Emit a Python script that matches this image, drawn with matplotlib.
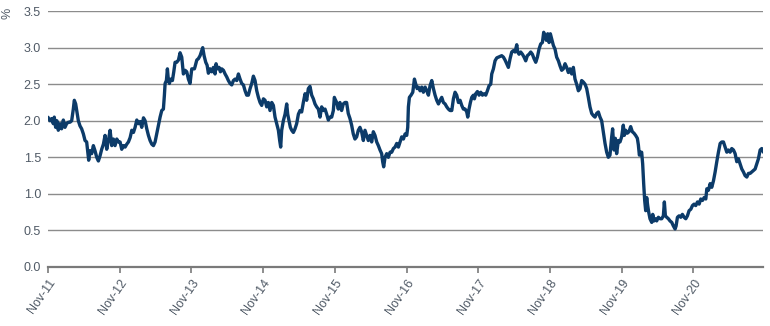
import datetime as dt
import matplotlib
matplotlib.use('Agg')
import matplotlib.pyplot as plt
import matplotlib.dates as mdates

plt.rcParams['font.family'] = ['Liberation Sans', 'DejaVu Sans']

# decimal years (Nov 1 = .833) and yield in %
years = [
    2011.837, 2011.861, 2011.884, 2011.907, 2011.921, 2011.940, 2011.958, 2011.977, 2012.000, 2012.023,
    2012.047, 2012.070, 2012.093, 2012.116, 2012.140, 2012.163, 2012.186, 2012.200, 2012.219, 2012.237,
    2012.256, 2012.279, 2012.302, 2012.326, 2012.349, 2012.372, 2012.386, 2012.400, 2012.419, 2012.442,
    2012.465, 2012.488, 2012.512, 2012.535, 2012.558, 2012.581, 2012.605, 2012.628, 2012.651, 2012.674,
    2012.698, 2012.721, 2012.744, 2012.767, 2012.791, 2012.814, 2012.837, 2012.860, 2012.884, 2012.907,
    2012.930, 2012.953, 2012.977, 2013.000, 2013.023, 2013.046, 2013.070, 2013.093, 2013.116, 2013.139,
    2013.163, 2013.186, 2013.209, 2013.232, 2013.255, 2013.279, 2013.302, 2013.325, 2013.348, 2013.372,
    2013.395, 2013.418, 2013.441, 2013.455, 2013.465, 2013.483, 2013.497, 2013.511, 2013.525, 2013.544,
    2013.567, 2013.586, 2013.604, 2013.627, 2013.651, 2013.674, 2013.697, 2013.720, 2013.744, 2013.767,
    2013.790, 2013.813, 2013.837, 2013.874,
    2013.883, 2013.907, 2013.930, 2013.953, 2013.976, 2013.990, 2014.009, 2014.032, 2014.051, 2014.069,
    2014.093, 2014.116, 2014.139, 2014.162, 2014.176, 2014.195, 2014.218, 2014.237, 2014.255, 2014.279,
    2014.302, 2014.325, 2014.348, 2014.372, 2014.395, 2014.418, 2014.441, 2014.465, 2014.488, 2014.511,
    2014.534, 2014.558, 2014.581, 2014.604, 2014.627, 2014.651, 2014.674, 2014.697, 2014.720, 2014.744,
    2014.767, 2014.790, 2014.813, 2014.837, 2014.860, 2014.883, 2014.906, 2014.929, 2014.953, 2014.976,
    2014.999, 2015.022, 2015.046, 2015.064, 2015.078, 2015.092, 2015.115, 2015.139, 2015.162, 2015.176,
    2015.194, 2015.213, 2015.232, 2015.255, 2015.278, 2015.301, 2015.325, 2015.348, 2015.371, 2015.394,
    2015.418, 2015.441, 2015.464, 2015.487, 2015.511, 2015.534, 2015.557, 2015.580, 2015.604, 2015.627,
    2015.650, 2015.673, 2015.697, 2015.720, 2015.743, 2015.766, 2015.790, 2015.813, 2015.827,
    2015.835, 2015.859, 2015.882, 2015.905, 2015.928, 2015.952, 2015.975, 2015.998, 2016.021, 2016.045,
    2016.068, 2016.091, 2016.114, 2016.138, 2016.161, 2016.184, 2016.207, 2016.231, 2016.254, 2016.277,
    2016.300, 2016.324, 2016.347, 2016.370, 2016.393, 2016.417, 2016.440, 2016.463, 2016.486, 2016.500,
    2016.514, 2016.533, 2016.556, 2016.579, 2016.603, 2016.626, 2016.649, 2016.672, 2016.696, 2016.719,
    2016.742, 2016.765, 2016.789, 2016.812, 2016.835, 2016.849, 2016.858, 2016.872, 2016.895, 2016.919,
    2016.942, 2016.961, 2016.979, 2016.998, 2017.021, 2017.044, 2017.067, 2017.091, 2017.114, 2017.137,
    2017.160, 2017.184, 2017.207, 2017.230, 2017.253, 2017.277, 2017.300, 2017.323, 2017.346, 2017.370,
    2017.393, 2017.416, 2017.439, 2017.463, 2017.486, 2017.509, 2017.532, 2017.556, 2017.579, 2017.602,
    2017.625, 2017.649, 2017.672, 2017.686, 2017.704, 2017.723, 2017.742, 2017.765, 2017.779,
    2017.798, 2017.821, 2017.844, 2017.868, 2017.891, 2017.914, 2017.937, 2017.960, 2017.984, 2018.007,
    2018.021, 2018.044, 2018.067, 2018.091, 2018.114, 2018.137, 2018.160, 2018.184, 2018.207, 2018.230,
    2018.253, 2018.277, 2018.300, 2018.323, 2018.346, 2018.370, 2018.384, 2018.402, 2018.425, 2018.449,
    2018.472, 2018.495, 2018.518, 2018.542, 2018.565, 2018.588, 2018.611, 2018.635, 2018.658, 2018.681,
    2018.704, 2018.728, 2018.746, 2018.765, 2018.783, 2018.802, 2018.821, 2018.839, 2018.858, 2018.881,
    2018.904, 2018.927, 2018.951, 2018.974, 2018.997, 2019.020, 2019.044, 2019.067, 2019.090, 2019.113,
    2019.137, 2019.160, 2019.183, 2019.206, 2019.230, 2019.253, 2019.276, 2019.299, 2019.323, 2019.346,
    2019.369, 2019.392, 2019.416, 2019.439, 2019.462, 2019.485, 2019.509, 2019.532, 2019.555, 2019.578,
    2019.602, 2019.625, 2019.648, 2019.671, 2019.695, 2019.708, 2019.727,
    2019.746, 2019.764, 2019.788, 2019.811, 2019.834, 2019.857, 2019.871, 2019.890, 2019.913, 2019.936,
    2019.960, 2019.983, 2020.006, 2020.029, 2020.053, 2020.067, 2020.081, 2020.099, 2020.113, 2020.127,
    2020.141, 2020.155, 2020.169, 2020.183, 2020.197, 2020.211, 2020.229, 2020.253, 2020.267, 2020.285,
    2020.304, 2020.322, 2020.346, 2020.369, 2020.392, 2020.415, 2020.429, 2020.443, 2020.462, 2020.485,
    2020.508, 2020.532, 2020.555, 2020.578, 2020.592, 2020.611, 2020.634, 2020.657, 2020.680, 2020.704,
    2020.727, 2020.750, 2020.773, 2020.797, 2020.820, 2020.843, 2020.866, 2020.890, 2020.913, 2020.936,
    2020.959, 2020.983, 2021.006, 2021.020, 2021.043, 2021.066, 2021.089, 2021.113, 2021.136, 2021.159,
    2021.182, 2021.206, 2021.229, 2021.252, 2021.275, 2021.299, 2021.322, 2021.345, 2021.368, 2021.392,
    2021.415, 2021.438, 2021.461, 2021.485, 2021.508, 2021.531, 2021.554, 2021.578, 2021.601, 2021.624,
    2021.647, 2021.671, 2021.694, 2021.717, 2021.740, 2021.764, 2021.787, 2021.810, 2021.829,
]
yields = [
    2.04, 2.00, 2.03, 1.96, 2.05, 1.91, 2.00, 1.87, 1.96, 1.89,
    2.01, 1.91, 1.96, 1.98, 1.98, 2.00, 2.16, 2.28, 2.23, 2.12,
    2.00, 1.93, 1.89, 1.82, 1.73, 1.71, 1.59, 1.46, 1.59, 1.55,
    1.66, 1.59, 1.50, 1.45, 1.52, 1.61, 1.68, 1.80, 1.61, 1.73,
    1.87, 1.66, 1.75, 1.66, 1.75, 1.71, 1.71, 1.61, 1.66, 1.64,
    1.68, 1.71, 1.77, 1.87, 1.84, 1.91, 2.01, 1.96, 1.99, 1.91,
    2.04, 2.00, 1.89, 1.80, 1.73, 1.68, 1.66, 1.71, 1.82, 1.93,
    2.05, 2.14, 2.16, 2.35, 2.51, 2.55, 2.71, 2.55, 2.51, 2.57,
    2.55, 2.67, 2.80, 2.80, 2.83, 2.93, 2.87, 2.64, 2.69, 2.67,
    2.57, 2.51, 2.71, 2.71,
    2.74, 2.83, 2.85, 2.89, 2.96, 3.00, 2.89, 2.80, 2.76, 2.65,
    2.71, 2.67, 2.73, 2.64, 2.78, 2.71, 2.73, 2.67, 2.71, 2.69,
    2.64, 2.60, 2.55, 2.51, 2.49, 2.55, 2.57, 2.55, 2.64, 2.57,
    2.51, 2.49, 2.41, 2.35, 2.35, 2.44, 2.51, 2.61, 2.55, 2.41,
    2.32, 2.25, 2.21, 2.30, 2.28, 2.19, 2.25, 2.14, 2.25, 2.21,
    2.05, 1.96, 1.87, 1.73, 1.64, 1.87, 2.00, 2.09, 2.23, 2.09,
    2.00, 1.91, 1.87, 1.84, 1.89, 1.96, 2.09, 2.14, 2.12, 2.25,
    2.37, 2.28, 2.44, 2.47, 2.35, 2.30, 2.23, 2.19, 2.16, 2.05,
    2.19, 2.14, 2.16, 2.09, 2.01, 2.05, 2.05, 2.14, 2.32,
    2.30, 2.25, 2.16, 2.25, 2.14, 2.23, 2.25, 2.25, 2.10, 2.03,
    1.94, 1.82, 1.75, 1.78, 1.87, 1.91, 1.85, 1.73, 1.87, 1.80,
    1.73, 1.80, 1.71, 1.85, 1.80, 1.71, 1.66, 1.60, 1.55, 1.44,
    1.37, 1.50, 1.55, 1.50, 1.57, 1.57, 1.62, 1.64, 1.69, 1.64,
    1.71, 1.78, 1.75, 1.82, 1.80, 1.91, 2.19, 2.32, 2.35, 2.39,
    2.57, 2.50, 2.44, 2.46, 2.41, 2.46, 2.39, 2.46, 2.41, 2.35,
    2.48, 2.55, 2.44, 2.35, 2.28, 2.23, 2.28, 2.32, 2.25, 2.23,
    2.19, 2.16, 2.14, 2.14, 2.30, 2.39, 2.35, 2.25, 2.28, 2.21,
    2.16, 2.16, 2.12, 2.05, 2.16, 2.25, 2.32, 2.35, 2.30,
    2.37, 2.40, 2.35, 2.39, 2.35, 2.37, 2.35, 2.41, 2.48, 2.50,
    2.64, 2.71, 2.82, 2.86, 2.87, 2.88, 2.89, 2.87, 2.83, 2.78,
    2.73, 2.85, 2.94, 2.96, 2.94, 3.04, 2.94, 2.91, 2.94, 2.91,
    2.87, 2.82, 2.89, 2.91, 2.94, 2.91, 2.85, 2.80, 2.87, 2.98,
    3.05, 3.07, 3.21, 3.16, 3.10, 3.19, 3.07, 3.19, 3.12, 3.03,
    2.98, 2.87, 2.82, 2.75, 2.69, 2.71, 2.78, 2.73, 2.66, 2.71,
    2.64, 2.73, 2.57, 2.50, 2.41, 2.44, 2.55, 2.53, 2.50, 2.44,
    2.32, 2.19, 2.10, 2.07, 2.05, 2.10, 2.12, 2.05, 2.00, 1.85,
    1.69, 1.57, 1.50, 1.53, 1.78, 1.89, 1.60,
    1.76, 1.55, 1.73, 1.71, 1.78, 1.94, 1.80, 1.87, 1.83, 1.85,
    1.92, 1.85, 1.83, 1.80, 1.76, 1.67, 1.53, 1.57, 1.57, 1.41,
    1.14, 0.91, 0.77, 0.95, 0.84, 0.75, 0.66, 0.61, 0.72, 0.63,
    0.66, 0.63, 0.68, 0.66, 0.66, 0.70, 0.89, 0.70, 0.68, 0.66,
    0.63, 0.61, 0.56, 0.52, 0.56, 0.68, 0.70, 0.68, 0.72, 0.68,
    0.66, 0.70, 0.77, 0.79, 0.84, 0.86, 0.84, 0.89, 0.86, 0.93,
    0.91, 0.95, 0.93, 1.07, 1.05, 1.14, 1.09, 1.18, 1.30, 1.44,
    1.57, 1.69, 1.71, 1.71, 1.64, 1.57, 1.60, 1.57, 1.62, 1.60,
    1.55, 1.44, 1.48, 1.41, 1.34, 1.30, 1.25, 1.23, 1.28, 1.28,
    1.30, 1.32, 1.34, 1.41, 1.48, 1.60, 1.62, 1.57, 1.57,
]

y_ticks = [0.0, 0.5, 1.0, 1.5, 2.0, 2.5, 3.0, 3.5]
tick_years = list(range(2011, 2021))


def to_date(y):
    yr = int(y)
    start = dt.datetime(yr, 1, 1)
    days = (dt.datetime(yr + 1, 1, 1) - start).days
    return start + dt.timedelta(days=(y - yr) * days)


dates = [to_date(y) for y in years]

line_col = '#0c3b69'
text_col = '#505a66'

fig = plt.figure(figsize=(7.7, 3.26), dpi=100)
ax = fig.add_axes([0.0623, 0.181, 0.9287, 0.785])

for t in y_ticks[1:]:
    ax.axhline(t, color='#8c8c8c', lw=1.0, zorder=1)
ax.plot(dates, yields, color=line_col, lw=2.4, solid_joinstyle='round', zorder=3)

ax.set_ylim(0, 3.5)
ax.set_xlim(dt.datetime(2011, 11, 1), to_date(2021.805))
ax.set_yticks(y_ticks)
ax.set_yticklabels(['%.1f' % t for t in y_ticks])

ax.set_xticks([dt.datetime(y, 11, 1) for y in tick_years])
ax.xaxis.set_major_formatter(mdates.DateFormatter('%b-%y'))
for lab in ax.get_xticklabels():
    lab.set_rotation(55)
    lab.set_ha('right')
    lab.set_rotation_mode('anchor')

for s in ['top', 'right', 'left']:
    ax.spines[s].set_visible(False)
ax.spines['bottom'].set_color('#7a7a7a')
ax.spines['bottom'].set_linewidth(1.6)
ax.tick_params(axis='x', length=4, width=1.2, color='#7a7a7a', labelsize=9,
               labelcolor=text_col, pad=3)
ax.tick_params(axis='y', length=0, labelsize=9, labelcolor=text_col, pad=5)

fig.text(0.010, 0.96, '%', fontsize=9, color=text_col, va='center', ha='center',
         rotation=90)

fig.savefig('out.png', dpi=100)
